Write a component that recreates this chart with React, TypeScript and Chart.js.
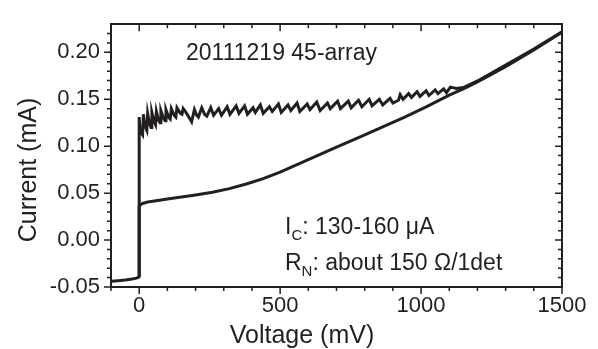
import React, { useEffect, useRef } from 'react';
import { Chart, registerables } from 'chart.js';

Chart.register(...registerables);

// ---- data (mV, mA) ----
const lowerV = [-100, -75, -50, -25, -10, -3, 0, 0, 4, 12, 30, 60, 100, 150, 200, 260, 320, 380, 440, 500, 560, 620, 700, 780, 860, 940, 1020, 1100, 1150, 1200, 1300, 1400, 1500];
const lowerI = [-0.044, -0.0433, -0.0425, -0.0415, -0.0406, -0.0398, -0.039, 0.036, 0.0375, 0.039, 0.0405, 0.042, 0.0438, 0.0458, 0.048, 0.051, 0.0548, 0.0598, 0.0655, 0.0725, 0.0805, 0.0885, 0.099, 0.1095, 0.12, 0.1308, 0.1422, 0.1545, 0.161, 0.1685, 0.1848, 0.2025, 0.2215];

const upperV = [0, 0, 3, 12, 15, 20, 27, 30, 36, 42, 45, 52, 58, 61, 68, 74, 77, 86, 92, 95, 104, 110, 114, 124, 130, 134, 146, 152, 156,
  166, 178, 186, 196, 204, 210, 222, 232, 240, 254, 264, 282, 292, 312, 322, 344, 354, 374, 384, 404, 412, 430, 440, 462, 472, 494, 504,
  528, 538, 560, 570, 596, 606, 630, 642, 668, 678, 704, 714, 742, 752, 778, 790, 816, 826, 852, 864, 890, 900, 920, 926, 936, 956, 966,
  986, 996, 1018, 1028, 1050, 1060, 1080, 1090, 1104, 1125, 1150, 1200, 1300, 1400, 1500];
const upperI = [-0.039, 0.131, 0.116, 0.112, 0.134, 0.122, 0.117, 0.135, 0.125, 0.120, 0.136, 0.127, 0.123, 0.137, 0.128, 0.125, 0.138, 0.130, 0.127, 0.139, 0.131, 0.129, 0.140, 0.133, 0.131, 0.141, 0.135, 0.134, 0.140,
  0.136, 0.130, 0.126, 0.139, 0.133, 0.131, 0.141, 0.134, 0.132, 0.141, 0.133, 0.140, 0.133, 0.142, 0.134, 0.143, 0.135, 0.143, 0.134, 0.141, 0.136, 0.144, 0.135, 0.142, 0.137, 0.145, 0.136,
  0.144, 0.138, 0.146, 0.137, 0.145, 0.139, 0.147, 0.138, 0.146, 0.140, 0.148, 0.140, 0.148, 0.141, 0.149, 0.142, 0.150, 0.143, 0.150, 0.144, 0.151, 0.146, 0.149, 0.155, 0.150, 0.156, 0.152,
  0.158, 0.153, 0.159, 0.154, 0.160, 0.156, 0.161, 0.157, 0.163, 0.1615, 0.1625, 0.1695, 0.1865, 0.2035, 0.222];

const xLabelTicks = [0, 500, 1000, 1500];
const yLabelTicks = [-0.05, 0, 0.05, 0.1, 0.15, 0.2];
const xMinorTicks = [-100, 0, 100, 200, 300, 400, 500, 600, 700, 800, 900, 1000, 1100, 1200, 1300, 1400, 1500];
const yMinorTicks = [-0.05, -0.04, -0.03, -0.02, -0.01, 0, 0.01, 0.02, 0.03, 0.04, 0.05, 0.06, 0.07, 0.08, 0.09, 0.1, 0.11, 0.12, 0.13, 0.14, 0.15, 0.16, 0.17, 0.18, 0.19, 0.2, 0.21, 0.22];

const INK = '#231f20';
const FONT = "'Liberation Sans', Arial, sans-serif";

const isMajor = (v: number, step: number) => Math.abs(v / step - Math.round(v / step)) < 1e-6;

const framePlugin = {
  id: 'frameTicks',
  afterDraw(chart: any) {
    const { ctx, chartArea: a, scales } = chart;
    const xs = scales.x;
    const ys = scales.y;
    ctx.save();
    ctx.strokeStyle = INK;
    ctx.lineWidth = 1.5;
    ctx.beginPath();
    xMinorTicks.forEach((v) => {
      const px = xs.getPixelForValue(v);
      const L = isMajor(v, 500) ? 7 : 4;
      ctx.moveTo(px, a.bottom);
      ctx.lineTo(px, a.bottom + L);
      ctx.moveTo(px, a.top);
      ctx.lineTo(px, a.top + L);
    });
    yMinorTicks.forEach((v) => {
      const py = ys.getPixelForValue(v);
      const L = isMajor(v, 0.05) ? 7 : 4;
      ctx.moveTo(a.left, py);
      ctx.lineTo(a.left - L, py);
      ctx.moveTo(a.right, py);
      ctx.lineTo(a.right - L, py);
    });
    ctx.stroke();

    // axis titles
    ctx.fillStyle = INK;
    ctx.font = `25px ${FONT}`;
    ctx.textAlign = 'center';
    ctx.textBaseline = 'alphabetic';
    ctx.fillText('Voltage (mV)', 302, 343);
    ctx.save();
    ctx.translate(29, 170);
    ctx.rotate(-Math.PI / 2);
    ctx.textBaseline = 'middle';
    ctx.fillText('Current (mA)', 0, 0);
    ctx.restore();

    // annotations
    ctx.textAlign = 'left';
    ctx.textBaseline = 'alphabetic';
    const big = `23px ${FONT}`;
    const small = `15px ${FONT}`;
    ctx.font = big;
    ctx.fillText('20111219 45-array', 186, 60);

    const drawSub = (main: string, sub: string, rest: string, x: number, y: number) => {
      ctx.font = big;
      ctx.fillText(main, x, y);
      let cx = x + ctx.measureText(main).width;
      ctx.font = small;
      ctx.fillText(sub, cx, y + 6);
      cx += ctx.measureText(sub).width;
      ctx.font = big;
      ctx.fillText(rest, cx, y);
    };
    drawSub('I', 'C', ': 130-160 \u03bcA', 285, 234);
    drawSub('R', 'N', ': about 150 \u03a9/1det', 285, 270);
    ctx.restore();
  },
};

export default function App() {
  const ref = useRef<HTMLCanvasElement | null>(null);
  useEffect(() => {
    if (!ref.current) return;
    const lower = lowerV.map((v, i) => ({ x: v, y: lowerI[i] }));
    const upper = upperV.map((v, i) => ({ x: v, y: upperI[i] }));
    const chart = new Chart(ref.current, {
      type: 'line',
      data: {
        datasets: [
          { data: lower, borderColor: INK, borderWidth: 3, pointRadius: 0, tension: 0, fill: false },
          { data: upper, borderColor: INK, borderWidth: 3, pointRadius: 0, tension: 0, fill: false, borderJoinStyle: 'miter' },
        ],
      },
      options: {
        animation: false,
        responsive: false,
        maintainAspectRatio: false,
        layout: { padding: 0 },
        plugins: { legend: { display: false }, tooltip: { enabled: false } },
        scales: {
          x: {
            type: 'linear',
            position: 'bottom',
            min: -100,
            max: 1500,
            afterBuildTicks: (s: any) => { s.ticks = xLabelTicks.map((v) => ({ value: v })); },
            afterFit: (s: any) => { s.height = 62; },
            grid: { display: false, drawTicks: false },
            border: { display: true, color: INK, width: 2 },
            ticks: { color: INK, font: { family: FONT, size: 22 }, padding: 6, maxRotation: 0, autoSkip: false, callback: (v: any) => String(v) },
          },
          x2: {
            type: 'linear',
            position: 'top',
            min: -100,
            max: 1500,
            afterFit: (s: any) => { s.height = 15; },
            grid: { display: false, drawTicks: false },
            border: { display: true, color: INK, width: 2 },
            ticks: { display: false },
          },
          y: {
            type: 'linear',
            position: 'left',
            min: -0.05,
            max: 0.23,
            afterBuildTicks: (s: any) => { s.ticks = yLabelTicks.map((v) => ({ value: v })); },
            afterFit: (s: any) => { s.width = 111; },
            grid: { display: false, drawTicks: false },
            border: { display: true, color: INK, width: 2 },
            ticks: { color: INK, font: { family: FONT, size: 22 }, padding: 11, autoSkip: false, callback: (v: any) => Number(v).toFixed(2) },
          },
          y2: {
            type: 'linear',
            position: 'right',
            min: -0.05,
            max: 0.23,
            afterFit: (s: any) => { s.width = 36; },
            grid: { display: false, drawTicks: false },
            border: { display: true, color: INK, width: 2 },
            ticks: { display: false },
          },
        },
      },
      plugins: [framePlugin],
    } as any);
    return () => chart.destroy();
  }, []);
  return (
    <div style={{ position: 'fixed', left: 0, top: 0, width: 598, height: 349, background: '#fff' }}>
      <canvas ref={ref} width={598} height={349} style={{ width: 598, height: 349, display: 'block' }} />
    </div>
  );
}
